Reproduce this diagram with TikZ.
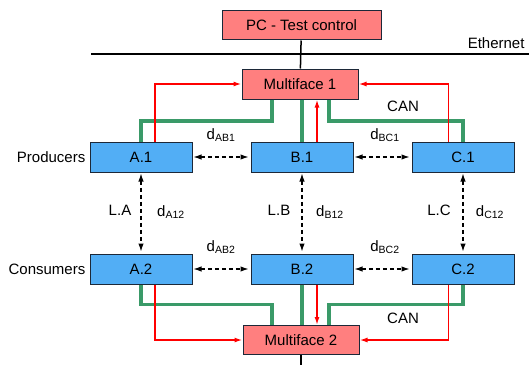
\documentclass[tikz,border=0pt]{standalone}
\usepackage{fontspec}
\setmainfont{Liberation Sans}
\usetikzlibrary{positioning, arrows.meta}

\definecolor{mfred}{HTML}{FF7F7F}
\definecolor{unitblue}{HTML}{52AEF5}
\definecolor{boxline}{HTML}{1C2838}
\definecolor{canline}{HTML}{3A9A68}
\definecolor{sigred}{HTML}{FF0000}

\newcommand{\dlab}[1]{d\textsubscript{#1}}

\begin{document}
\begin{tikzpicture}[x=1pt, y=1pt, font=\fontsize{15}{18}\selectfont,
    box/.style={draw=boxline, line width=1pt, inner sep=0pt, minimum height=30pt},
    unit/.style={box, fill=unitblue, minimum width=102pt},
    mface/.style={box, fill=mfred, minimum width=116pt},
    can/.style={canline, line width=3.2pt},
    sig/.style={sigred, line width=1.5pt, -{Latex[length=8pt,width=5pt]}},
    dist/.style={dash pattern=on 4pt off 3pt, line width=1.1pt, {Latex[length=8pt,width=5.5pt]}-{Latex[length=8pt,width=5.5pt]}, shorten <=1pt, shorten >=2pt}]
    \useasboundingbox (0,0) rectangle (529,365);

    % test control and ethernet
    \node[box, fill=mfred, minimum width=159pt, minimum height=29pt] (pc) at (301.5,339.5) {PC - Test control};
    \coordinate (ethl) at (91,311);
    \coordinate (ethr) at (529,311);
    \draw[line width=1.5pt] (ethl) -- (ethr);
    \node[anchor=east] (eth) at (528,322) {Ethernet};

    \node[mface] (mf1) at (300,281) {Multiface 1};
    \node[mface, minimum height=29pt] (mf2) at (301,25) {Multiface 2};
    \coordinate (bot) at (301,0);
    \draw[line width=1.5pt] (pc) -- (mf1);
    \draw[line width=1.5pt] (mf2) -- (bot);

    % units
    \node[unit] (a1) at (141,208) {A.1};
    \node[unit, right=58pt of a1] (b1) {B.1};
    \node[unit, right=58pt of b1] (c1) {C.1};
    \node[unit, below=81pt of a1] (a2) {A.2};
    \node[unit, below=81pt of b1] (b2) {B.2};
    \node[unit, below=81pt of c1] (c2) {C.2};
    \node[left=4pt of a1, inner sep=0pt] (prod) {Producers};
    \node[left=4pt of a2, inner sep=0pt] (cons) {Consumers};

    % CAN bus
    \draw[can] ([xshift=-28pt]mf1.south) -- ++(0,-21.5) -| (a1.north);
    \draw[can] (mf1.south -| b1.north) -- (b1.north);
    \draw[can] ([xshift=29pt]mf1.south) -- ++(0,-21.5) -| (c1.north);
    \draw[can] (a2.south) -- ++(0,-20) -| ([xshift=-29pt]mf2.north);
    \draw[can] (b2.south) -- (b2.south |- mf2.north);
    \draw[can] (c2.south) -- ++(0,-20) -| ([xshift=28pt]mf2.north);
    \node (can1) at (403,259) {CAN};
    \node (can2) at (403,47) {CAN};

    % signals
    \draw[sig] ([xshift=14pt]a1.north) |- (mf1.west);
    \draw[sig] ([xshift=15pt]b1.north) -- ([xshift=15pt]b1.north |- mf1.south);
    \draw[sig] ([xshift=-14.5pt]c1.north) |- (mf1.east);
    \draw[sig] ([xshift=14pt]a2.south) |- (mf2.west);
    \draw[sig] ([xshift=15pt]b2.south) -- ([xshift=15pt]b2.south |- mf2.north);
    \draw[sig] ([xshift=-14.5pt]c2.south) |- (mf2.east);

    % distances
    \draw[dist] (a1) -- (b1);
    \draw[dist] (b1) -- (c1);
    \draw[dist] (a2) -- (b2);
    \draw[dist] (b2) -- (c2);
    \draw[dist] (a1) -- (a2);
    \draw[dist] (b1) -- (b2);
    \draw[dist] (c1) -- (c2);

    \node (dab1) at (221,230) {\dlab{AB1}};
    \node (dbc1) at (385,230) {\dlab{BC1}};
    \node (dab2) at (221,118) {\dlab{AB2}};
    \node (dbc2) at (385,118) {\dlab{BC2}};
    \node (la) at (120,155) {L.A};
    \node (lb) at (279,155) {L.B};
    \node (lc) at (439,155) {L.C};
    \node (da12) at (171,153) {\dlab{A12}};
    \node (db12) at (330,153) {\dlab{B12}};
    \node (dc12) at (490,153) {\dlab{C12}};
\end{tikzpicture}
\end{document}
